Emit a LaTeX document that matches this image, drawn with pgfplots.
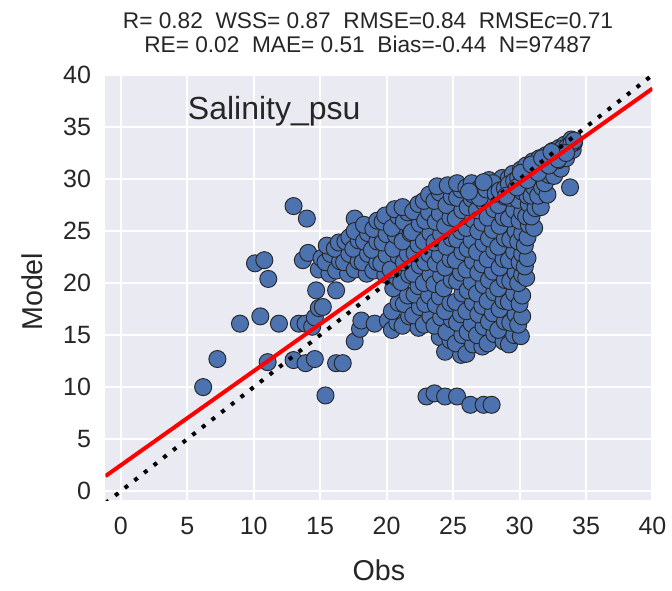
\documentclass[border=0pt]{standalone}
\usepackage{fontspec}
\setmainfont{Liberation Sans}
\usepackage{pgfplots}
\pgfplotsset{compat=1.18}
\definecolor{bgc}{HTML}{EAEAF2}
\definecolor{dotc}{HTML}{4C72B0}
\definecolor{txt}{HTML}{262626}
\begin{document}
\begin{tikzpicture}
\begin{axis}[
  at={(0,0)}, anchor=south west,
  scale only axis, width=410.25pt, height=318.75pt,
  xmin=-1.15, xmax=40, ymin=-0.85, ymax=40,
  xtick={0,5,...,40}, ytick={0,5,...,40},
  axis background/.style={fill=bgc},
  axis line style={draw=none},
  major tick length=0pt,
  grid=major, major grid style={white, line width=1.5pt},
  /pgf/number format/assume math mode=true,
  tick label style={font=\fontsize{18.75}{21}\selectfont, text=txt},
  xticklabel shift=9.5pt,
  yticklabel shift=7.3pt,
  clip=true, clip marker paths=true,
]
\addplot[only marks, mark=*, mark size=6.4pt, mark options={fill=dotc, draw=black!85, line width=0.7pt}] coordinates {
(6.2,10.0) (7.27,12.7) (8.97,16.1) (10.1,21.9) (10.8,22.2) (11.1,20.4) (10.5,16.8) (11.9,16.1) (11.05,12.4)
(13.0,27.4) (14.0,26.2) (13.0,12.6) (13.9,12.3) (14.6,12.7) (16.2,12.3) (16.7,12.3) (15.4,9.2)
(17.6,14.4) (18.0,15.6) (13.4,16.1) (13.9,16.1) (14.4,15.8) (14.6,16.7) (14.9,17.6) (15.2,17.7)
(14.7,19.3) (16.2,19.3) (13.7,22.2) (14.1,22.9) (18.1,16.4) (19.1,16.1) (20.1,16.4) (20.4,15.5) (17.6,26.2)
(23.0,9.1) (23.6,9.4) (24.4,9.1) (25.3,9.1) (26.3,8.3) (27.3,8.3) (27.9,8.3)
(33.8,29.2)
(14.9,21.3) (15.1,22.4)
(15.7,20.9) (15.4,22.0) (15.8,22.8) (15.5,23.6)
(16.2,21.2) (16.5,22.1) (16.1,23.3) (16.4,23.9)
(17.1,20.9) (16.8,22.0) (17.2,22.8) (16.9,24.0) (17.2,24.4)
(17.6,21.3) (17.9,22.1) (17.5,23.3) (17.9,24.1) (17.6,25.0)
(18.5,20.9) (18.2,22.0) (18.6,22.8) (18.3,24.0) (18.6,24.8) (18.3,25.6)
(19.0,21.2) (19.3,22.0) (18.9,23.2) (19.3,24.0) (19.0,25.2) (19.3,26.0)
(19.9,20.8) (19.6,21.9) (20.0,22.7) (19.7,23.9) (20.0,24.7) (19.7,25.9) (19.9,26.5)
(20.8,16.2) (20.4,17.3) (20.9,18.1) (20.5,19.5) (20.8,20.5) (20.3,21.3) (20.9,22.6) (20.5,23.3) (20.7,24.6) (20.4,25.3) (20.9,26.4) (20.6,27.1)
(21.2,15.9) (21.7,16.8) (21.3,18.0) (21.6,18.8) (21.1,20.1) (21.7,20.8) (21.3,22.0) (21.6,22.8) (21.2,24.0) (21.8,24.8) (21.3,25.9) (21.6,26.8) (21.2,27.3)
(22.4,15.7) (22.0,16.9) (22.5,17.7) (22.1,18.9) (22.4,19.7) (22.0,20.9) (22.5,21.7) (22.1,22.9) (22.4,23.7) (21.9,24.9) (22.5,25.7) (22.0,26.9) (22.4,27.6)
(22.8,16.0) (23.3,16.8) (22.9,18.0) (23.2,18.8) (22.8,20.0) (23.3,20.8) (22.9,22.0) (23.2,22.8) (22.8,24.0) (23.3,24.8) (22.9,26.0) (23.2,26.8) (22.8,27.9) (23.2,28.5)
(24.0,14.8) (23.6,15.9) (24.1,16.7) (23.7,17.9) (24.0,18.7) (23.6,19.9) (24.1,20.7) (23.7,21.9) (24.0,22.7) (23.6,23.9) (24.1,24.7) (23.7,25.9) (24.0,26.7) (23.6,27.9) (24.0,28.7) (23.8,29.3)
(24.4,13.4) (24.8,14.5) (24.5,15.3) (24.9,16.5) (24.4,17.3) (24.8,18.1) (24.3,19.5) (24.9,20.3) (24.4,21.5) (24.8,22.3) (24.5,23.5) (24.9,24.3) (24.4,25.5) (24.8,26.3) (24.5,27.5) (24.9,28.3) (24.6,29.4)
(25.6,13.1) (25.2,14.2) (25.7,15.0) (25.3,16.2) (25.6,17.0) (25.2,18.2) (25.7,19.0) (25.3,20.2) (25.6,21.0) (25.2,22.2) (25.7,23.0) (25.3,24.2) (25.6,25.0) (25.2,26.2) (25.7,27.0) (25.3,28.2) (25.6,29.0) (25.3,29.6)
(26.0,13.2) (26.5,14.1) (26.1,15.3) (26.4,16.1) (26.0,17.3) (26.5,18.1) (26.1,19.3) (26.4,20.1) (26.0,21.3) (26.5,22.1) (26.1,23.3) (26.4,24.1) (26.0,25.3) (26.5,26.1) (26.1,27.3) (26.4,28.1) (26.0,29.2) (26.4,29.6)
(27.2,13.9) (26.8,15.0) (27.3,15.8) (26.9,17.0) (27.2,17.8) (26.8,19.0) (27.3,19.8) (26.9,21.0) (27.2,21.8) (26.8,23.0) (27.3,23.8) (26.9,25.0) (27.2,25.8) (26.8,27.0) (27.3,27.8) (26.9,29.0) (27.2,29.4)
(27.6,14.2) (28.1,15.1) (27.7,16.3) (28.0,17.1) (27.6,18.3) (28.1,19.1) (27.7,20.3) (28.0,21.1) (27.6,22.3) (28.1,23.1) (27.7,24.3) (28.0,25.1) (27.6,26.3) (28.1,27.1) (27.7,28.3) (28.0,29.1) (27.7,29.9)
(28.8,14.4) (28.4,15.5) (28.9,16.3) (28.5,17.5) (28.8,18.3) (28.4,19.5) (28.9,20.3) (28.5,21.5) (28.8,22.3) (28.4,23.5) (28.9,24.3) (28.5,25.5) (28.8,26.3) (28.4,27.5) (28.9,28.3) (28.5,29.5) (28.7,30.1)
(29.2,14.1) (29.6,15.0) (29.3,16.2) (29.7,17.0) (29.2,18.2) (29.6,19.0) (29.3,20.2) (29.7,21.0) (29.2,22.2) (29.6,23.0) (29.3,24.2) (29.7,25.0) (29.2,26.2) (29.6,27.0) (29.3,28.2) (29.6,29.0) (29.2,30.1) (29.5,30.5)
(30.1,14.9) (29.9,16.0) (30.2,16.8) (30.0,18.0) (30.2,18.8) (29.9,20.0) (30.2,20.8) (30.0,22.0) (30.2,22.8) (29.9,24.0) (30.2,24.8) (30.0,26.0) (30.2,26.8) (29.9,28.0) (30.2,28.8) (30.0,30.0) (30.1,30.9)
(30.5,20.5) (30.4,21.6) (30.6,22.4) (30.4,23.6) (30.6,24.4) (30.7,25.6) (30.5,26.4) (30.7,27.6) (30.6,28.4) (30.7,29.6) (30.6,30.4) (30.5,31.3)
(31.1,25.3) (30.9,26.4) (31.2,27.2) (30.9,28.4) (31.1,29.2) (30.9,30.4) (31.1,31.2) (31.0,31.7)
(31.6,27.3) (31.4,28.4) (31.7,29.2) (31.4,30.4) (31.6,31.2) (31.5,32.0)
(32.1,28.5) (31.9,29.6) (32.2,30.4) (31.9,31.6) (32.0,32.3)
(32.6,30.3) (32.4,31.4) (32.6,32.2) (32.5,32.7)
(33.1,31.0) (32.9,31.8) (33.1,32.6) (33.0,33.0)
(33.5,32.0) (33.6,32.7) (33.4,33.3)
(34.0,32.8) (34.1,33.5) (33.9,33.8)
(26.5,28.5) (27.0,28.2) (27.5,29.0) (28.0,29.6) (26.2,28.8) (27.3,29.7)
(28.2,28.6) (28.5,28.9) (28.9,29.1) (29.2,29.5) (29.6,29.8) (29.9,30.1) (30.2,30.3) (30.6,30.6) (30.9,31.0) (31.2,31.2)
(31.6,31.5) (31.9,31.8) (32.2,32.0) (32.6,32.3) (32.9,32.6) (33.2,32.9) (33.6,33.1) (33.9,33.4) (34.1,33.7)
(29.0,28.4) (29.8,29.2) (30.6,29.9) (31.4,30.6) (32.2,31.3) (32.9,31.9) (33.5,32.5) (30.1,30.6) (30.9,31.4) (31.7,32.0) (32.4,32.6)
};
\addplot[black, line width=3pt, dash pattern=on 3pt off 6.2pt] coordinates {(-1.15,-1.15) (40,40)};
\addplot[red, line width=3pt] coordinates {(-1.15,1.447) (40,38.70)};
\node[anchor=base west, font=\fontsize{24}{28}\selectfont, text=txt] at (axis cs:4.7,35.7) {Salinity\_psu};
\end{axis}
\node[anchor=base, font=\fontsize{21.5}{24}\selectfont, text=txt] at (205.1pt,-60pt) {Obs};
\node[anchor=base, rotate=90, font=\fontsize{21.5}{24}\selectfont, text=txt] at (-47pt,156.2pt) {Model};
\node[anchor=base, font=\fontsize{17}{20}\selectfont, text=txt] at (196.9pt,353.25pt) {R= 0.82\ \ WSS= 0.87\ \ RMSE=0.84\ \ RMSE\textit{c}=0.71};
\node[anchor=base, font=\fontsize{17}{20}\selectfont, text=txt] at (196.9pt,335.25pt) {RE= 0.02\ \ MAE= 0.51\ \ Bias=-0.44\ \ N=97487};
\pgfresetboundingbox
\path (-79.1pt,-67.5pt) rectangle (424.9pt,375pt);
\end{tikzpicture}
\end{document}
